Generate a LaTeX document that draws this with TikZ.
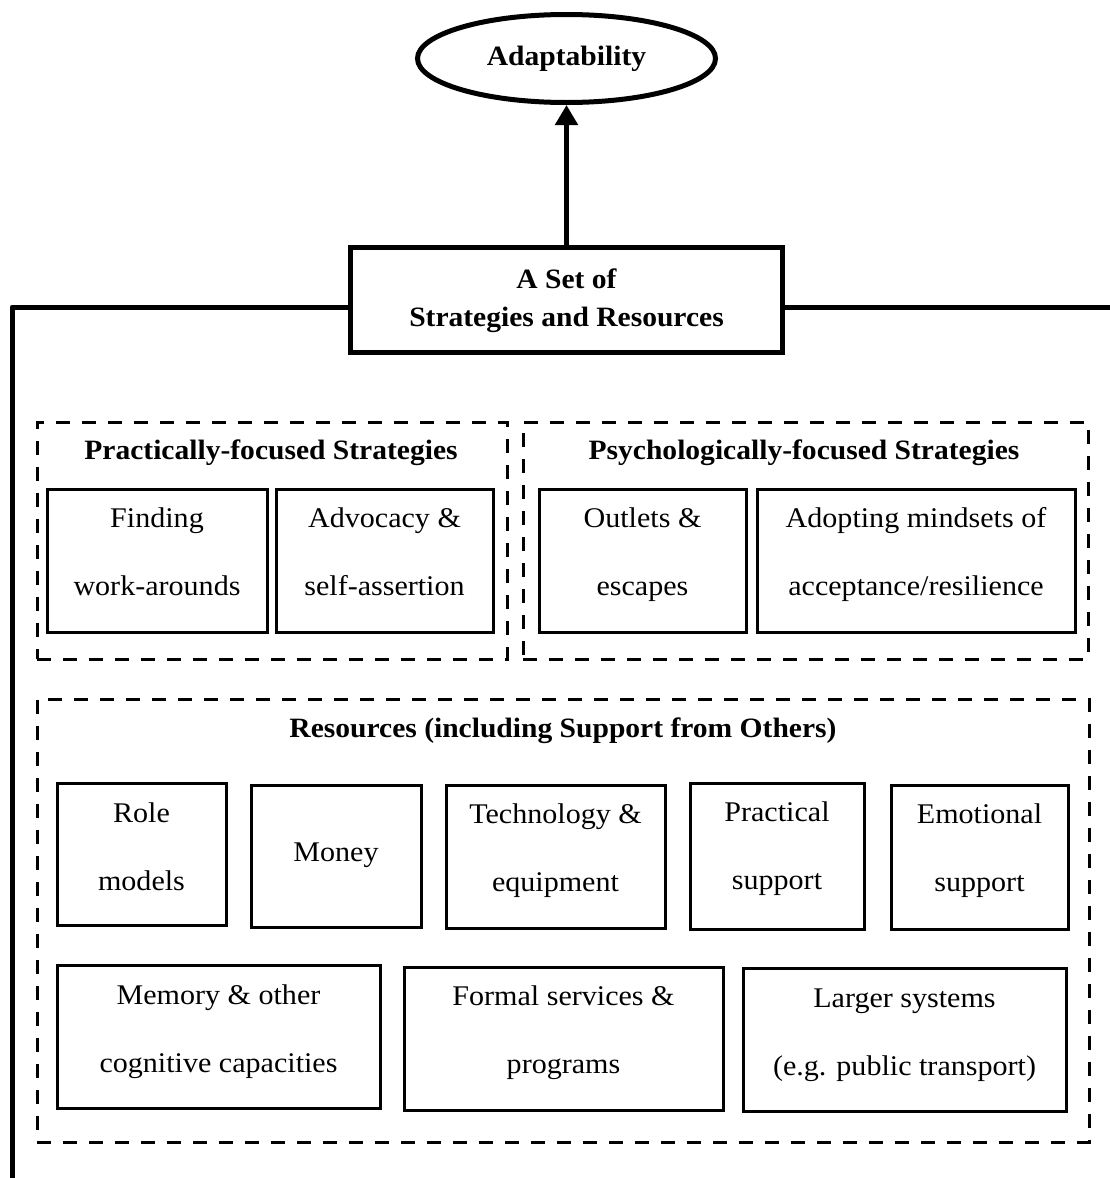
\documentclass[tikz,border=0pt]{standalone}
\usepackage{fontspec}
\setmainfont[FakeStretch=1.055]{Liberation Serif}
\usetikzlibrary{shapes.geometric,arrows.meta}
\tikzset{
  thickline/.style={line width=5pt, line join=round},
  grp/.style={draw, line width=3pt, dash pattern=on 14pt off 12pt, inner sep=0pt},
  box/.style={draw, line width=3pt, inner sep=0pt},
  txt/.style={align=center, inner sep=0pt, font=\fontsize{28.5}{68}\selectfont},
  ttl/.style={align=center, inner sep=0pt, font=\bfseries\fontsize{28}{38}\selectfont},
}
\begin{document}
\begin{tikzpicture}[x=1pt,y=-1pt]
\useasboundingbox (0,0) rectangle (1110,1178);
% top ellipse
\node[ellipse, draw, line width=5pt, minimum width=298pt, minimum height=88pt, inner sep=0pt,
      font=\bfseries\fontsize{28}{34}\selectfont] (adapt) at (566.5,58.5) {Adaptability};
% central box
\node[draw, line width=5pt, minimum width=432pt, minimum height=105pt, inner sep=0pt] (set) at (566.5,300) {};
\node[ttl] (settxt) at (566.5,300.5) {A Set of\\Strategies and Resources};
\draw[thickline, -{Triangle[width=22pt,length=20pt]}] (set.north) -- (adapt.south);
% outer frame
\coordinate (fl) at (12,307);
\coordinate (fb) at (12,1190);
\coordinate (fr) at (1125,307);
\draw[thickline] (fb) -- (fl) -- (set.west |- fl);
\draw[thickline] (set.east |- fl) -- (fr);
% dashed groups
\node[grp, minimum width=470pt, minimum height=237pt] (g1) at (272,540.5) {};
\node[grp, minimum width=565pt, minimum height=237pt] (g2) at (805.5,540.5) {};
\node[grp, minimum width=1052pt, minimum height=443pt] (g3) at (563,920.5) {};
\node[ttl] (g1t) at (271,453) {Practically-focused Strategies};
\node[ttl] (g2t) at (804,453) {Psychologically-focused Strategies};
\node[ttl] (g3t) at (563,731) {Resources (including Support from Others)};
% row 1
\node[box, minimum width=220pt, minimum height=143pt] (find) at (157,560.5) {};
\node[box, minimum width=217pt, minimum height=143pt] (advo) at (384.5,560.5) {};
\node[box, minimum width=207pt, minimum height=143pt] (outl) at (642.5,560.5) {};
\node[box, minimum width=318pt, minimum height=143pt] (adop) at (916,560.5) {};
\node[txt] (findt) at (157,552) {Finding\\work-arounds};
\node[txt] (advot) at (384.5,552) {Advocacy \&\\self-assertion};
\node[txt] (outlt) at (642.5,555) {Outlets \&\\escapes};
\node[txt] (adopt) at (916,554) {Adopting mindsets of\\acceptance/resilience};
% row 2
\node[box, minimum width=169pt, minimum height=142pt] (role) at (141.5,854) {};
\node[box, minimum width=170pt, minimum height=142pt] (mone) at (336,856) {};
\node[box, minimum width=219pt, minimum height=143pt] (tech) at (555.5,856.5) {};
\node[box, minimum width=174pt, minimum height=146pt] (prac) at (777,856) {};
\node[box, minimum width=177pt, minimum height=144pt] (emot) at (979.5,857) {};
\node[txt] (rolet) at (141.5,847) {Role\\models};
\node[txt] (monet) at (336,855) {Money};
\node[txt] (techt) at (555.5,851) {Technology \&\\equipment};
\node[txt] (pract) at (777,849) {Practical\\support};
\node[txt] (emott) at (979.5,851) {Emotional\\support};
% row 3
\node[box, minimum width=323pt, minimum height=143pt] (memo) at (218.5,1036.5) {};
\node[box, minimum width=319pt, minimum height=143pt] (form) at (563.5,1038.5) {};
\node[box, minimum width=323pt, minimum height=143pt] (larg) at (904.5,1039.5) {};
\node[txt] (memot) at (218.5,1032) {Memory \& other\\cognitive capacities};
\node[txt] (formt) at (563.5,1033) {Formal services \&\\programs};
\node[txt] (largt) at (904.5,1035) {Larger systems\\(e.g. public transport)};
\end{tikzpicture}
\end{document}
